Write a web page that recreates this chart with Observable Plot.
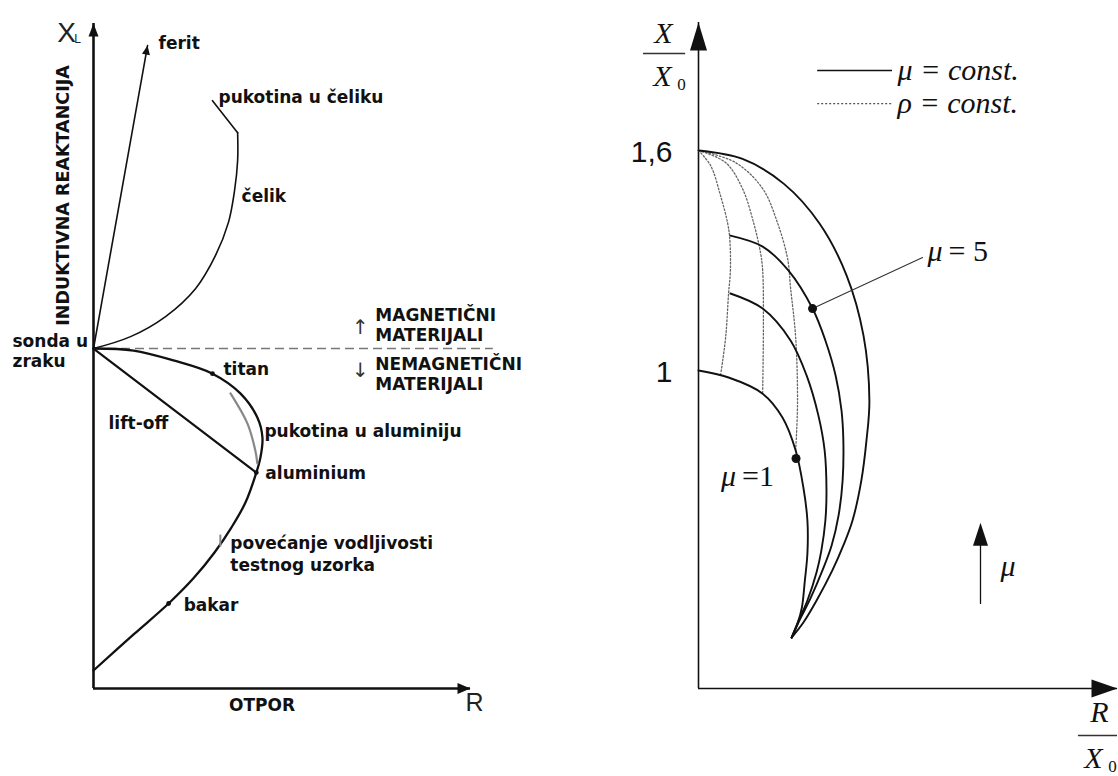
<!DOCTYPE html>
<html>
<head>
<meta charset="utf-8">
<script src="https://cdn.jsdelivr.net/npm/d3@7"></script>
<script src="https://cdn.jsdelivr.net/npm/@observablehq/plot@0.6"></script>
<style>
  html, body { margin: 0; padding: 0; background: #fff; }
  #wrap { display: flex; width: 1118px; height: 776px; overflow: hidden; }
  #wrap svg { display: block; }
</style>
</head>
<body>
<div id="wrap"></div>
<script>
// ---------- Left diagram: eddy-current impedance plane (R, XL), XL normalised to the probe in air ----------
const probeInAir = [0, 1.0];
const feritLine = [[0, 1.0], [0.159, 1.891]];
const celikCurve = [[0, 1.0], [0.109, 1.035], [0.212, 1.094], [0.300, 1.176], [0.359, 1.274], [0.397, 1.371],
                    [0.415, 1.465], [0.424, 1.553], [0.424, 1.635]];
const celikCrack = [[0.424, 1.635], [0.350, 1.729]];
const conductivityCurve = [[0, 1.0], [0.118, 0.994], [0.235, 0.965], [0.350, 0.926], [0.432, 0.868], [0.482, 0.797],
                           [0.497, 0.738], [0.491, 0.679], [0.479, 0.635], [0.447, 0.547], [0.406, 0.474],
                           [0.356, 0.400], [0.294, 0.324], [0.221, 0.250], [0.118, 0.159], [0, 0.053]];
const aluCrack = [[0.403, 0.868], [0.453, 0.779], [0.476, 0.700], [0.482, 0.662]];
const titan = [0.350, 0.926];
const aluminium = [0.479, 0.635];
const conductivityMark = [0.379, 0.435];
const bakar = [0.221, 0.250];
const liftOff = [probeInAir, aluminium];
const leftXMax = 1.109, leftYMax = 1.956, separatorEnd = 1.176;

// ---------- Right diagram: normalised impedance X/X0 vs R/X0 ----------
const tickValues = [1, 1.6];
const tickLabels = ["1", "1,6"];
const muOuter = [[0, 1.6], [0.120, 1.577], [0.233, 1.509], [0.330, 1.401], [0.404, 1.259], [0.450, 1.095],
                 [0.466, 0.918], [0.458, 0.809], [0.444, 0.700], [0.420, 0.591], [0.395, 0.523], [0.365, 0.455],
                 [0.322, 0.373], [0.286, 0.313], [0.254, 0.272]];
const mu5 = [[0.087, 1.368], [0.175, 1.338], [0.245, 1.273], [0.311, 1.169], [0.346, 1.082], [0.374, 0.986],
             [0.390, 0.891], [0.395, 0.809], [0.393, 0.700], [0.382, 0.605], [0.363, 0.523], [0.338, 0.455],
             [0.305, 0.378], [0.278, 0.324], [0.254, 0.272]];
const muMid = [[0.087, 1.210], [0.175, 1.169], [0.251, 1.082], [0.295, 0.986], [0.327, 0.877], [0.344, 0.782],
               [0.349, 0.673], [0.346, 0.591], [0.335, 0.509], [0.322, 0.450], [0.297, 0.373], [0.273, 0.318],
               [0.254, 0.272]];
const mu1 = [[0, 1.0], [0.082, 0.981], [0.175, 0.937], [0.229, 0.872], [0.265, 0.782], [0.286, 0.681],
             [0.297, 0.591], [0.297, 0.501], [0.290, 0.427], [0.282, 0.354], [0.270, 0.310], [0.254, 0.272]];
const rho1 = [[0, 1.6], [0.033, 1.559], [0.060, 1.477], [0.079, 1.404], [0.085, 1.363], [0.087, 1.273],
              [0.082, 1.210], [0.074, 1.090], [0.060, 0.986]];
const rho2 = [[0, 1.6], [0.074, 1.567], [0.120, 1.496], [0.150, 1.404], [0.169, 1.322], [0.175, 1.273],
              [0.177, 1.136], [0.175, 0.940]];
const rho3 = [[0, 1.6], [0.101, 1.567], [0.175, 1.496], [0.215, 1.404], [0.243, 1.305], [0.251, 1.226],
              [0.265, 1.090], [0.270, 0.910], [0.265, 0.782]];
const mu5Marker = [0.311, 1.169];
const mu1Marker = [0.266, 0.760];
const legendLabels = ["μ = const.", "ρ = const."];
const rightXMax = 1.1426, rightYMin = 0.133, rightYMax = 1.949;

// filled arrowhead whose tip sits on the point, pointing along `angle` (degrees, screen space)
function head(len, wid, angle) {
  const a = angle * Math.PI / 180, ux = Math.cos(a), uy = Math.sin(a);
  const bx = -len * ux, by = -len * uy, px = -uy * wid / 2, py = ux * wid / 2;
  return {draw(ctx) { ctx.moveTo(0, 0); ctx.lineTo(bx + px, by + py); ctx.lineTo(bx - px, by - py); ctx.closePath(); }};
}
const tickSymbol = {draw(ctx) { ctx.moveTo(0, -6); ctx.lineTo(0, 6); }};
const X = d => d[0], Y = d => d[1];

const sans = "DejaVu Sans";
const bold = {fontFamily: sans, fontWeight: "bold", fontSize: 17, fill: "#111", textAnchor: "start"};
const label = (pt, str, opts) => Plot.text([pt], {x: X, y: Y, text: () => str, ...bold, ...opts});

const feritAngle = Math.atan2(-(feritLine[1][1] - feritLine[0][1]), feritLine[1][0] - feritLine[0][0]) * 180 / Math.PI;

const left = Plot.plot({
  width: 560, height: 776,
  marginLeft: 93, marginRight: 90, marginTop: 23, marginBottom: 88,
  x: {domain: [0, leftXMax], axis: null},
  y: {domain: [0, leftYMax], axis: null},
  style: {background: "white", overflow: "visible"},
  marks: [
    // axes with arrowheads
    Plot.ruleX([0], {y1: 0, y2: leftYMax, strokeWidth: 2.6, stroke: "#111"}),
    Plot.ruleY([0], {x1: 0, x2: leftXMax, strokeWidth: 2.6, stroke: "#111"}),
    Plot.dot([[0, leftYMax]], {x: X, y: Y, r: 1, symbol: head(13, 10, -90), fill: "#111", stroke: "none"}),
    Plot.dot([[leftXMax, 0]], {x: X, y: Y, r: 1, symbol: head(13, 11, 0), fill: "#111", stroke: "none"}),
    // magnetic / non-magnetic separator
    Plot.ruleY([probeInAir[1]], {x1: 0, x2: separatorEnd, stroke: "#777", strokeWidth: 1.6, strokeDasharray: "9,5"}),
    // ferrite
    Plot.line(feritLine, {x: X, y: Y, stroke: "#111", strokeWidth: 1.6}),
    Plot.dot([feritLine[1]], {x: X, y: Y, r: 1, symbol: head(9, 8, feritAngle), fill: "#111", stroke: "none"}),
    // steel and crack in steel
    Plot.line(celikCurve, {x: X, y: Y, curve: "catmull-rom", stroke: "#111", strokeWidth: 1.6}),
    Plot.line(celikCrack, {x: X, y: Y, stroke: "#111", strokeWidth: 1.6}),
    // lift-off
    Plot.line(liftOff, {x: X, y: Y, stroke: "#111", strokeWidth: 2.2}),
    // conductivity locus for non-magnetic materials
    Plot.line(conductivityCurve, {x: X, y: Y, curve: "catmull-rom", stroke: "#111", strokeWidth: 2.3}),
    Plot.line(aluCrack, {x: X, y: Y, curve: "catmull-rom", stroke: "#888", strokeWidth: 2.2}),
    Plot.dot([titan, aluminium, bakar], {x: X, y: Y, r: 2.4, fill: "#111"}),
    Plot.dot([conductivityMark], {x: X, y: Y, r: 1, symbol: tickSymbol, stroke: "#888", strokeWidth: 2, dx: -2}),
    // axis titles
    Plot.text([[0, leftYMax]], {x: X, y: Y, text: () => "X", fontFamily: "Liberation Sans", fontSize: 28, fill: "#222", dx: -27, dy: 10}),
    Plot.text([[0, leftYMax]], {x: X, y: Y, text: () => "L", fontFamily: "Liberation Sans", fontSize: 12, fill: "#222", dx: -16, dy: 16}),
    Plot.text([[leftXMax, 0]], {x: X, y: Y, text: () => "R", fontFamily: "Liberation Sans", fontSize: 25, fill: "#222", dx: 4, dy: 14}),
    Plot.text([[leftXMax / 2, 0]], {x: X, y: Y, text: () => "OTPOR", ...bold, textAnchor: "middle", dx: -20, dy: 17}),
    Plot.text([[0, 1.45]], {x: X, y: Y, text: () => "INDUKTIVNA REAKTANCIJA", ...bold, fontSize: 17.5, textAnchor: "middle", rotate: -90, dx: -30}),
    // curve labels
    label(feritLine[1], "ferit", {dx: 11, dy: -2}),
    label(celikCrack[1], "pukotina u čeliku", {dx: 6, dy: -3}),
    label([0.415, 1.465], "čelik", {dx: 7, dy: 6}),
    label(probeInAir, "sonda u\nzraku", {dx: -81, dy: 2, lineHeight: 1.2}),
    label(probeInAir, "lift-off", {dx: 15, dy: 75}),
    label(titan, "titan", {dx: 11, dy: -4}),
    label([0.497, 0.738], "pukotina u aluminiju", {dx: 2, dy: -6}),
    label(aluminium, "aluminium", {dx: 9, dy: 1}),
    label(conductivityMark, "povećanje vodljivosti\ntestnog uzorka", {dx: 8, dy: 12, lineHeight: 1.3}),
    label(bakar, "bakar", {dx: 15, dy: 2}),
    label([0.829, probeInAir[1]], "MAGNETIČNI\nMATERIJALI", {dy: -24, lineHeight: 1.18}),
    label([0.829, probeInAir[1]], "NEMAGNETIČNI\nMATERIJALI", {dy: 25, lineHeight: 1.18}),
    Plot.text([[0.785, probeInAir[1]]], {x: X, y: Y, text: () => "↑", fontFamily: sans, fontSize: 20, fill: "#333", dy: -21}),
    Plot.text([[0.785, probeInAir[1]]], {x: X, y: Y, text: () => "↓", fontFamily: sans, fontSize: 20, fill: "#333", dy: 22})
  ]
});

const serif = "Liberation Serif";
const math = {fontFamily: serif, fontStyle: "italic", fontSize: 30, fill: "#111"};

const right = Plot.plot({
  width: 558, height: 776,
  marginLeft: 138, marginRight: 1, marginTop: 22, marginBottom: 88,
  x: {domain: [0, rightXMax], axis: null},
  y: {domain: [rightYMin, rightYMax], axis: null},
  style: {background: "white", overflow: "visible"},
  marks: [
    // axes with arrowheads
    Plot.ruleX([0], {y1: rightYMin, y2: rightYMax, strokeWidth: 1.6, stroke: "#111"}),
    Plot.ruleY([rightYMin], {x1: 0, x2: rightXMax, strokeWidth: 1.6, stroke: "#111"}),
    Plot.dot([[0, rightYMax]], {x: X, y: Y, r: 1, symbol: head(28, 17, -90), fill: "#111", stroke: "none"}),
    Plot.dot([[rightXMax, rightYMin]], {x: X, y: Y, r: 1, symbol: head(26, 18, 0), fill: "#111", stroke: "none"}),
    // tick labels on the X/X0 axis
    Plot.text(tickValues, {x: 0, y: d => d, text: (d, i) => tickLabels[i], fontFamily: "Liberation Sans", fontSize: 30, fill: "#111", textAnchor: "end", dx: -26, dy: 2}),
    // constant-resistivity lines
    ...[rho1, rho2, rho3].map(c => Plot.line(c, {x: X, y: Y, curve: "catmull-rom", stroke: "#666", strokeWidth: 1.3, strokeDasharray: "1.6,2"})),
    // constant-permeability curves
    ...[muOuter, mu5, muMid, mu1].map(c => Plot.line(c, {x: X, y: Y, curve: "catmull-rom", stroke: "#111", strokeWidth: 1.9})),
    Plot.line([mu5Marker, [0.611, 1.308]], {x: X, y: Y, stroke: "#333", strokeWidth: 1.1}),
    Plot.dot([mu5Marker, mu1Marker], {x: X, y: Y, r: 4.5, fill: "#111"}),
    Plot.text([[0.611, 1.308]], {x: X, y: Y, text: () => "μ", ...math, textAnchor: "start", dx: 5, dy: -6}),
    Plot.text([[0.611, 1.308]], {x: X, y: Y, text: () => "= 5", ...math, fontStyle: "normal", textAnchor: "start", dx: 26, dy: -6}),
    Plot.text([mu1Marker], {x: X, y: Y, text: () => "μ", ...math, textAnchor: "start", dx: -75, dy: 18}),
    Plot.text([mu1Marker], {x: X, y: Y, text: () => "=1", ...math, fontStyle: "normal", textAnchor: "start", dx: -54, dy: 18}),
    // legend
    Plot.ruleY([1.818], {x1: 0.325, x2: 0.529, stroke: "#111", strokeWidth: 1.6}),
    Plot.ruleY([1.728], {x1: 0.325, x2: 0.529, stroke: "#555", strokeWidth: 1.2, strokeDasharray: "2,2"}),
    Plot.text(legendLabels, {x: 0.543, y: (d, i) => [1.818, 1.728][i], text: d => d, ...math, textAnchor: "start"}),
    // permeability direction arrow
    Plot.line([[0.769, 0.365], [0.769, 0.560]], {x: X, y: Y, stroke: "#111", strokeWidth: 1.3}),
    Plot.dot([[0.769, 0.585]], {x: X, y: Y, r: 1, symbol: head(23, 15, -90), fill: "#111", stroke: "none"}),
    Plot.text([[0.769, 0.465]], {x: X, y: Y, text: () => "μ", ...math, textAnchor: "start", dx: 20}),
    // axis titles as fractions
    Plot.text([[0, rightYMax]], {x: X, y: Y, text: () => "X", ...math, textAnchor: "middle", dx: -35, dy: 11}),
    Plot.ruleY([rightYMax], {x1: -0.150, x2: -0.035, stroke: "#333", strokeWidth: 1.3, dy: 31}),
    Plot.text([[0, rightYMax]], {x: X, y: Y, text: () => "X", ...math, textAnchor: "middle", dx: -36, dy: 54}),
    Plot.text([[0, rightYMax]], {x: X, y: Y, text: () => "0", fontFamily: serif, fontSize: 17, fill: "#111", dx: -17, dy: 62}),
    Plot.text([[rightXMax, rightYMin]], {x: X, y: Y, text: () => "R", ...math, textAnchor: "middle", dx: -18, dy: 24}),
    Plot.ruleY([rightYMin], {x1: 1.036, x2: rightXMax, stroke: "#333", strokeWidth: 1.3, dy: 47}),
    Plot.text([[rightXMax, rightYMin]], {x: X, y: Y, text: () => "X", ...math, textAnchor: "middle", dx: -24, dy: 70}),
    Plot.text([[rightXMax, rightYMin]], {x: X, y: Y, text: () => "0", fontFamily: serif, fontSize: 17, fill: "#111", dx: -5, dy: 78})
  ]
});

document.getElementById("wrap").append(left, right);
</script>
</body>
</html>
